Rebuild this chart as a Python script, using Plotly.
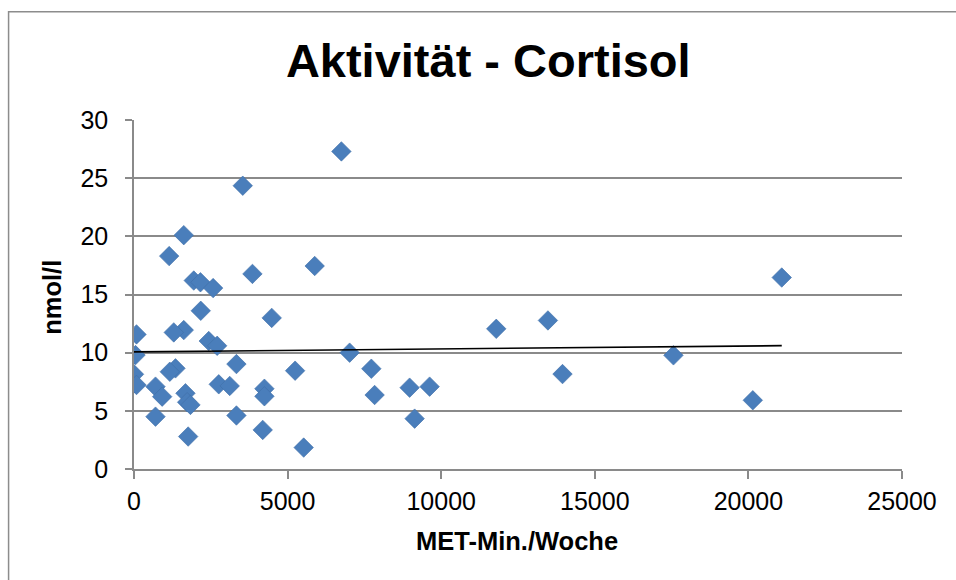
import numpy as np
import plotly.graph_objects as go

# MET-Min./Woche (x) and Cortisol nmol/l (y)
met_min = [6750, 3540, 1620, 1145, 5882, 3855, 21085, 1946, 2163, 2576,
           2173, 4483, 13474, 11792, 1620, 1295, 81, 2433, 2707, 7020,
           49, 17560, 3334, 1350, 7726, 5244, 1165, 13949, 0, 81,
           2759, 3116, 700, 9623, 8972, 4245, 1675, 7833, 4245, 917,
           20143, 1730, 1838, 3334, 700, 9135, 4190, 1763, 5524]
cortisol = [27.3, 24.35, 20.1, 18.3, 17.45, 16.77, 16.46, 16.2, 16.05, 15.55,
            13.6, 12.99, 12.77, 12.05, 11.94, 11.74, 11.57, 11.0, 10.59, 10.0,
            9.79, 9.77, 9.02, 8.65, 8.62, 8.45, 8.36, 8.16, 8.14, 7.22,
            7.28, 7.14, 7.08, 7.08, 6.99, 6.9, 6.51, 6.36, 6.25, 6.22,
            5.91, 5.74, 5.51, 4.6, 4.5, 4.33, 3.36, 2.79, 1.84]

x_ticks = [0, 5000, 10000, 15000, 20000, 25000]
y_ticks = [0, 5, 10, 15, 20, 25, 30]

title_text = "Aktivität - Cortisol"
x_title = "MET-Min./Woche"
y_title = "nmol/l"

FONT = "Arial, 'Liberation Sans', sans-serif"
GRID = "#8a8a8a"
BLUE = "#4a7ebb"

xa = np.array(met_min, dtype=float)
ya = np.array(cortisol, dtype=float)
slope, intercept = np.polyfit(xa, ya, 1)
tx = np.array([xa.min(), xa.max()])
ty = slope * tx + intercept

fig = go.Figure()
fig.add_trace(go.Scatter(
    x=met_min, y=cortisol, mode="markers",
    marker=dict(symbol="diamond", size=15, color=BLUE,
                line=dict(color="#3f6fa8", width=0.6)),
    showlegend=False, hoverinfo="x+y"))
fig.add_trace(go.Scatter(
    x=tx, y=ty, mode="lines", line=dict(color="black", width=1.6),
    showlegend=False, hoverinfo="skip"))

L, R, T, B = 133.5, 54, 119.5, 111
W, H = 956, 580
pw, ph = W - L - R, H - T - B

def px_x(px):
    return (px - L) / pw

def px_y(py):
    return (H - B - py) / ph

fig.update_layout(
    width=W, height=H,
    margin=dict(l=L, r=R, t=T, b=B),
    paper_bgcolor="white", plot_bgcolor="white",
    font=dict(family=FONT, color="black"),
    title=dict(text=f"<b>{title_text}</b>", font=dict(size=47, family=FONT),
               x=px_x(488), xref="paper", xanchor="center",
               y=1 - 61 / H, yref="container", yanchor="middle"),
    xaxis=dict(range=[0, 25000], tickvals=x_ticks,
               ticktext=[str(v) for v in x_ticks],
               showgrid=False, zeroline=False,
               showline=True, linecolor=GRID, linewidth=1.5,
               ticks="outside", ticklen=8, tickwidth=1.5, tickcolor=GRID,
               tickfont=dict(size=25, family=FONT), ticklabelstandoff=1),
    yaxis=dict(range=[0, 30], tickvals=y_ticks,
               ticktext=[str(v) for v in y_ticks],
               showgrid=True, gridcolor=GRID, gridwidth=1.5,
               zeroline=False,
               showline=True, linecolor=GRID, linewidth=1.5,
               ticks="outside", ticklen=7, tickwidth=1.5, tickcolor=GRID,
               tickfont=dict(size=25, family=FONT), ticklabelstandoff=12),
    annotations=[
        dict(text=f"<b>{x_title}</b>", xref="paper", yref="paper",
             x=px_x(517), y=px_y(541), xanchor="center", yanchor="middle",
             showarrow=False, font=dict(size=25.5, family=FONT)),
        dict(text=f"<b>{y_title}</b>", xref="paper", yref="paper",
             x=px_x(52), y=px_y(297), xanchor="center", yanchor="middle",
             textangle=-90, showarrow=False, font=dict(size=25.5, family=FONT)),
    ],
    shapes=[
        dict(type="rect", xref="paper", yref="paper",
             x0=px_x(8), x1=px_x(970), y0=px_y(600), y1=px_y(11),
             line=dict(color="#8c8c8c", width=1.5), fillcolor="rgba(0,0,0,0)",
             layer="below"),
    ],
)

fig.write_html("out.html", config={"displayModeBar": False},
               post_script="document.body.style.margin='0';document.body.style.padding='0';")
